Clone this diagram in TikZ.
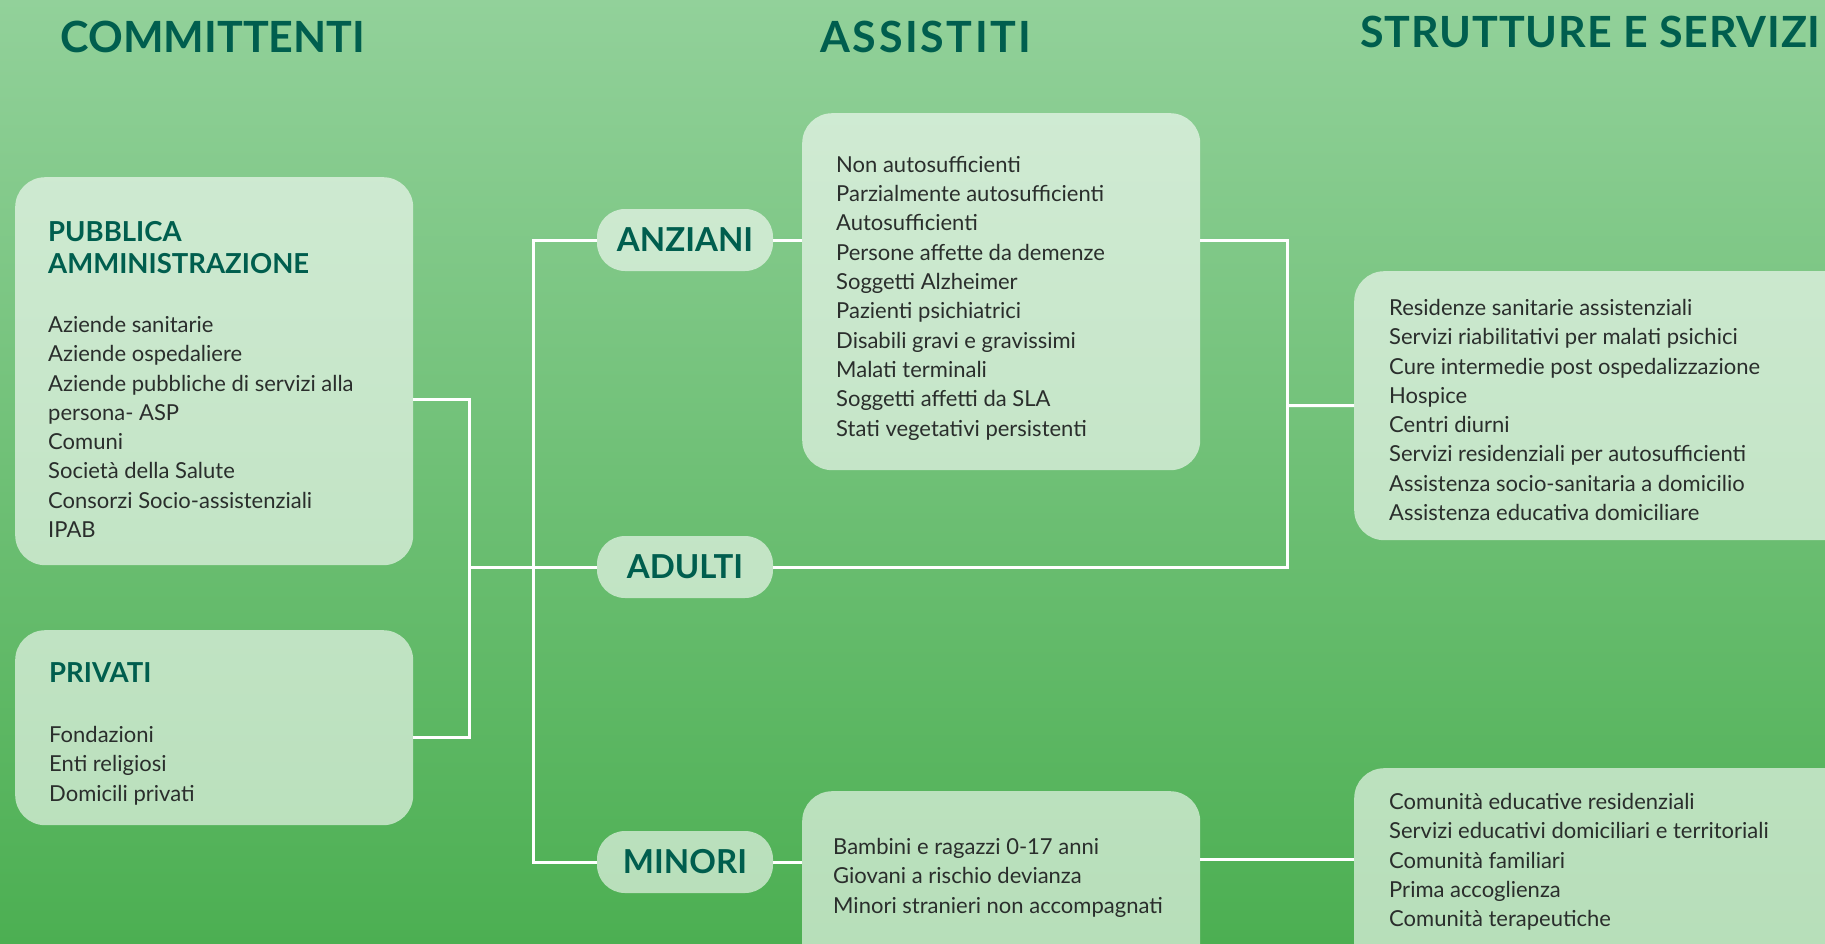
\documentclass[tikz,border=0pt]{standalone}
\usepackage{fontspec}
\setmainfont{Lato}
\usetikzlibrary{positioning}
\definecolor{MeadowTop}{RGB}{146,209,154}
\definecolor{MeadowBottom}{RGB}{76,175,82}
\definecolor{DeepTeal}{RGB}{0,94,78}
\definecolor{InkGrey}{RGB}{42,46,44}
\tikzset{
  panel/.style={fill=white, fill opacity=0.6, rounded corners=30pt,
    inner sep=0pt, anchor=north west},
  pill/.style={fill=white, fill opacity=0.6, text opacity=1, rounded corners=28pt,
    minimum width=176pt, minimum height=62pt, text=DeepTeal,
    font=\fontsize{33pt}{36pt}\selectfont\bfseries},
  column/.style={text=DeepTeal, inner sep=0pt,
    font=\fontsize{43pt}{48pt}\selectfont\bfseries},
  heading/.style={text=DeepTeal, align=left, inner sep=0pt, anchor=north west,
    font=\fontsize{27.5pt}{32pt}\selectfont\bfseries},
  items/.style={text=InkGrey, align=left, inner sep=0pt, anchor=north west,
    font=\fontsize{22pt}{29.3pt}\selectfont},
  link/.style={draw=white, line width=3pt}
}

\begin{document}
\begin{tikzpicture}[x=1pt, y=-1pt]
  \useasboundingbox (0,0) rectangle (1825,943);
  \clip (0,0) rectangle (1825,943);
  \shade[top color=MeadowTop, bottom color=MeadowBottom] (0,0) rectangle (1825,943);

  % column titles
  \node[column, anchor=base] (committenti) at (213,52) {COMMITTENTI};
  \node[column, anchor=base] (assistiti) at (926,52) {\addfontfeature{LetterSpace=6}ASSISTITI};
  \node[column, anchor=base west] (strutture) at (1360,47) {\addfontfeature{LetterSpace=2}STRUTTURE E SERVIZI};

  % committenti
  \node[panel, minimum width=398pt, minimum height=388pt] (pabox) at (15,177) {};
  \node[heading, below right=44pt and 33pt of pabox.north west] (pahead) {PUBBLICA\\AMMINISTRAZIONE};
  \node[items, below right=139pt and 33pt of pabox.north west] (paitems) {Aziende sanitarie\\Aziende ospedaliere\\Aziende pubbliche di servizi alla\\persona- ASP\\Comuni\\Società della Salute\\Consorzi Socio-assistenziali\\IPAB};

  \node[panel, minimum width=398pt, minimum height=195pt] (privbox) at (15,630) {};
  \node[heading, below right=32pt and 34pt of privbox.north west] (privhead) {PRIVATI};
  \node[items, below right=96pt and 34pt of privbox.north west] (privitems) {Fondazioni\\Enti religiosi\\Domicili privati};

  % assistiti
  \node[pill] (anziani) at (685,240) {ANZIANI};
  \node[pill] (adulti) at (685,567) {ADULTI};
  \node[pill] (minori) at (685,862) {MINORI};

  \node[panel, minimum width=398pt, minimum height=357pt] (anzbox) at (802,113) {};
  \node[items, below right=43pt and 34pt of anzbox.north west] (anzitems) {Non autosufficienti\\Parzialmente autosufficienti\\Autosufficienti\\Persone affette da demenze\\Soggetti Alzheimer\\Pazienti psichiatrici\\Disabili gravi e gravissimi\\Malati terminali\\Soggetti affetti da SLA\\Stati vegetativi persistenti};

  \node[panel, minimum width=398pt, minimum height=220pt] (minbox) at (802,791) {};
  \node[items, below right=47pt and 31pt of minbox.north west] (minitems) {Bambini e ragazzi 0-17 anni\\Giovani a rischio devianza\\Minori stranieri non accompagnati};

  % strutture e servizi
  \node[panel, minimum width=500pt, minimum height=269pt] (srvbox) at (1354,271) {};
  \node[items, below right=28pt and 35pt of srvbox.north west] (srvitems) {Residenze sanitarie assistenziali\\Servizi riabilitativi per malati psichici\\Cure intermedie post ospedalizzazione\\Hospice\\Centri diurni\\Servizi residenziali per autosufficienti\\Assistenza socio-sanitaria a domicilio\\Assistenza educativa domiciliare};

  \node[panel, minimum width=500pt, minimum height=240pt] (edubox) at (1354,768) {};
  \node[items, below right=25pt and 35pt of edubox.north west] (eduitems) {Comunità educative residenziali\\Servizi educativi domiciliari e territoriali\\Comunità familiari\\Prima accoglienza\\Comunità terapeutiche};

  % connectors
  \coordinate (jl) at (469,567);
  \coordinate (bus) at (533,567);
  \coordinate (jr) at (1287,405.5);
  \draw[link] ([yshift=-28pt]pabox.east) -| (jl) |- ([yshift=-10pt]privbox.east);
  \draw[link] (jl) -- (adulti.west);
  \draw[link] (anziani.west) -| (bus) |- (minori.west);
  \draw[link] (anziani.east) -- (anziani.east -| anzbox.west);
  \draw[link] (minori.east) -- (minori.east -| minbox.west);
  \draw[link] (anziani.east -| anzbox.east) -| (jr) |- (adulti.east);
  \draw[link] (jr) -- (srvbox.west);
  \draw[link] ([yshift=3pt]minori.east -| minbox.east) -- ([yshift=3pt]minori.east -| edubox.west);
\end{tikzpicture}
\end{document}
